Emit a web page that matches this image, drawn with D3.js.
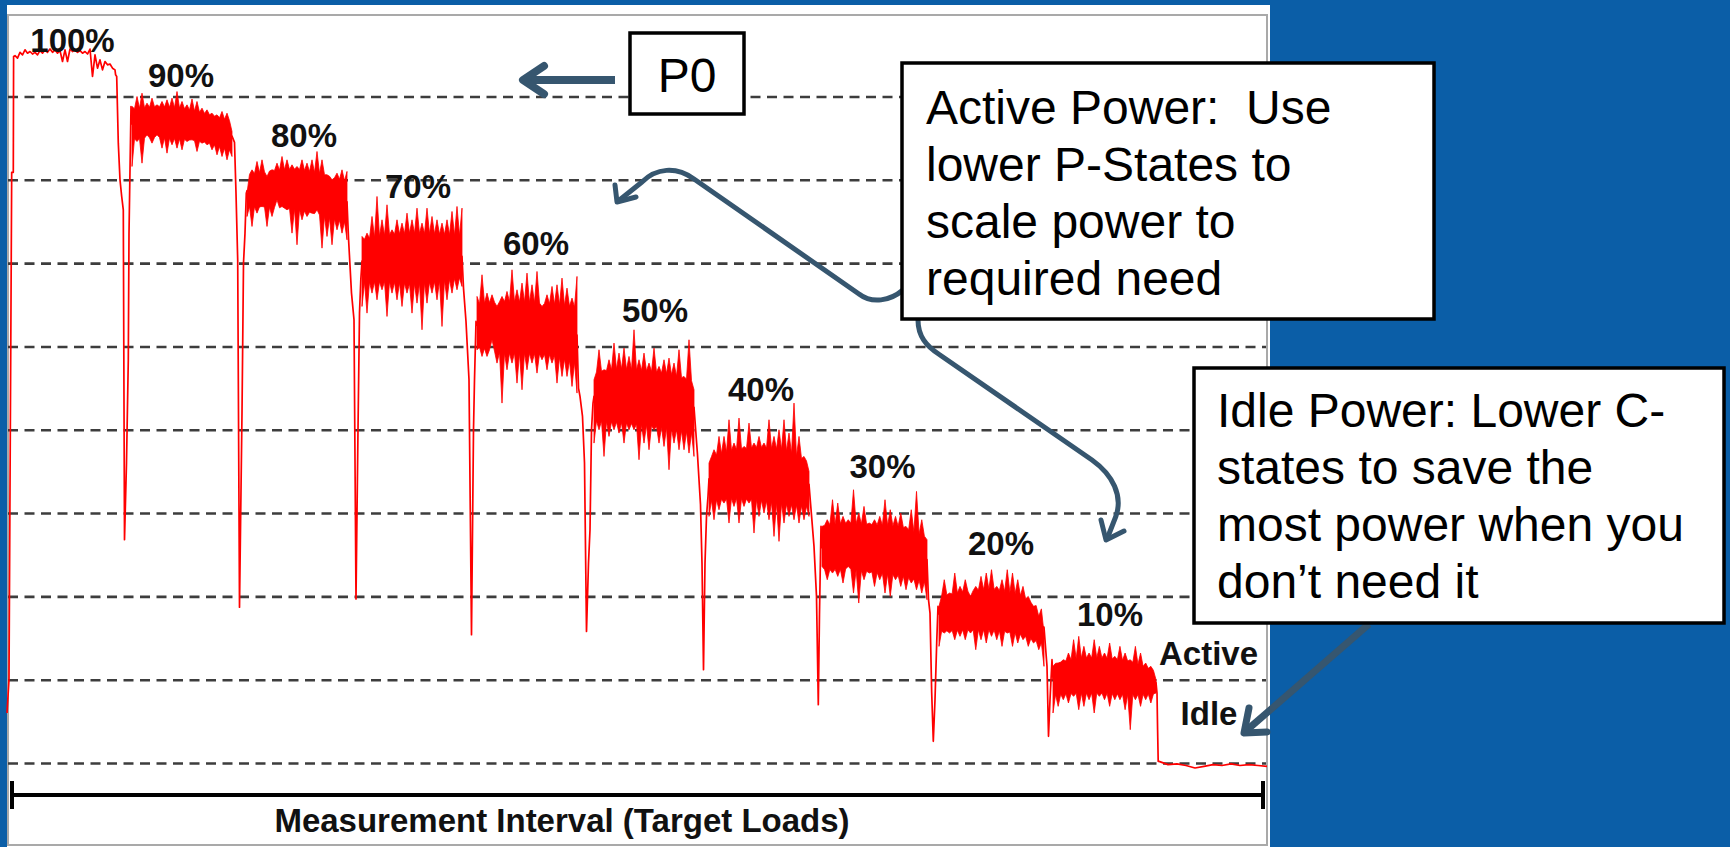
<!DOCTYPE html>
<meta charset="utf-8">
<style>

    html, body {
        margin: 0;
        padding: 0;
        background-color: #0b5ea7;
        overflow: hidden;
    }

    svg { display: block; }

    .grid line {
        stroke: #3d3d3d;
        stroke-width: 2.6;
        stroke-dasharray: 10 6.5;
    }

    path.trace {
        fill: none;
        stroke: #ff0000;
        stroke-width: 1.7;
        stroke-linejoin: round;
    }

    path.band {
        fill: #ff0000;
        stroke: #ff0000;
        stroke-width: 0.8;
        stroke-linejoin: round;
    }

    text.load {
        font: bold 33px "Liberation Sans", Arial, sans-serif;
        fill: #111;
        text-anchor: middle;
    }

    .callout rect {
        fill: #fff;
        stroke: #000;
        stroke-width: 3.5;
    }

    .callout text {
        font: 48px "Liberation Sans", Arial, sans-serif;
        fill: #000;
        white-space: pre;
    }

    path.pointer {
        fill: none;
        stroke: #36566f;
        stroke-linejoin: round;
    }

</style>
<body>
<script src="https://cdn.jsdelivr.net/npm/d3@7"></script>
<script>

    // power level is read in grid steps (0 = idle line, 8 = top dashed line)
    var gridLevels = [0, 1, 2, 3, 4, 5, 6, 7, 8];

    var loadLabels = ["100%", "90%", "80%", "70%", "60%", "50%", "40%", "30%", "20%", "10%"];
    var labelT = [65.5, 174, 297, 411, 529, 648, 754, 875.5, 994, 1103];
    var labelV = [8.53, 8.11, 7.39, 6.78, 6.10, 5.29, 4.35, 3.42, 2.50, 1.64];

    var stateLabels = ["Active", "Idle"];
    var stateT = [1201.5, 1202];
    var stateV = [1.18, 0.46];

    // measurement time of each load plateau
    var plateauStart = [8, 125, 240, 355, 470, 587, 702, 815, 932, 1046];
    var plateauEnd = [108, 225, 340, 455, 570, 687, 802, 920, 1037, 1149];

    // upper and lower spike tips along each plateau
    var spikeHigh = [
        [8.49, 8.53, 8.56, 8.54, 8.53, 8.55, 8.56, 8.57, 8.56, 8.55, 8.56, 8.57, 8.56, 8.55, 8.54, 8.57, 8.50, 8.44, 8.42, 8.39, 8.32],
        [7.88, 8.00, 8.04, 7.92, 7.98, 7.90, 7.94, 7.96, 7.98, 8.06, 7.94, 7.90, 7.97, 7.94, 7.86, 7.84, 7.80, 7.78, 7.82, 7.80, 7.58],
        [6.84, 7.12, 7.22, 7.24, 7.04, 7.12, 7.20, 7.28, 7.24, 7.18, 7.16, 7.24, 7.20, 7.24, 7.34, 7.24, 7.06, 7.00, 7.08, 7.12, 7.10],
        [6.32, 6.36, 6.56, 6.80, 6.52, 6.70, 6.40, 6.52, 6.48, 6.60, 6.52, 6.66, 6.48, 6.66, 6.56, 6.52, 6.48, 6.52, 6.62, 6.68, 6.66],
        [5.60, 5.86, 5.64, 5.62, 5.48, 5.60, 5.66, 5.92, 5.68, 5.76, 5.88, 5.74, 5.90, 5.48, 5.62, 5.72, 5.74, 5.82, 5.70, 5.58, 5.84],
        [4.60, 4.96, 4.72, 4.84, 5.04, 4.92, 4.98, 4.88, 5.20, 4.84, 4.92, 4.80, 4.98, 4.76, 4.84, 4.86, 4.80, 4.96, 4.64, 5.08, 4.48],
        [3.60, 3.76, 3.92, 3.92, 4.12, 3.84, 4.14, 3.80, 4.08, 3.84, 3.92, 3.84, 4.12, 3.92, 4.00, 4.12, 3.96, 4.32, 3.92, 3.68, 3.50],
        [2.84, 2.92, 3.16, 3.12, 2.96, 2.92, 3.28, 3.00, 3.08, 2.88, 2.92, 2.96, 3.16, 3.04, 2.96, 3.00, 2.84, 3.04, 3.26, 2.92, 2.68],
        [1.88, 2.20, 2.04, 2.28, 2.12, 2.20, 2.00, 2.12, 2.24, 2.28, 2.32, 2.12, 2.20, 2.32, 2.28, 2.20, 2.12, 2.00, 1.88, 1.76, 1.56],
        [1.16, 1.20, 1.24, 1.32, 1.48, 1.52, 1.40, 1.32, 1.48, 1.40, 1.32, 1.44, 1.28, 1.40, 1.32, 1.24, 1.40, 1.32, 1.20, 1.16, 1.00]
    ];
    var spikeLow = [
        [8.46, 8.50, 8.52, 8.51, 8.50, 8.52, 8.53, 8.53, 8.52, 8.42, 8.42, 8.54, 8.53, 8.52, 8.51, 8.24, 8.34, 8.32, 8.38, 8.34, 8.26],
        [7.16, 7.46, 7.20, 7.54, 7.44, 7.54, 7.38, 7.32, 7.42, 7.38, 7.36, 7.46, 7.48, 7.34, 7.44, 7.42, 7.36, 7.30, 7.28, 7.24, 7.28],
        [6.56, 6.44, 6.60, 6.68, 6.44, 6.56, 6.76, 6.68, 6.64, 6.36, 6.22, 6.52, 6.56, 6.60, 6.64, 6.18, 6.32, 6.22, 6.40, 6.36, 6.28],
        [5.48, 5.40, 5.64, 5.56, 5.68, 5.36, 5.64, 5.56, 5.48, 5.64, 5.40, 5.52, 5.20, 5.52, 5.64, 5.56, 5.24, 5.56, 5.64, 5.68, 5.72],
        [4.96, 4.88, 4.88, 5.08, 4.80, 4.32, 4.72, 4.80, 4.56, 4.48, 4.72, 4.80, 4.68, 4.84, 4.72, 4.80, 4.56, 4.64, 4.64, 4.52, 4.44],
        [3.84, 4.00, 3.68, 3.92, 4.00, 3.96, 3.84, 4.00, 4.00, 3.64, 3.84, 3.76, 4.00, 3.84, 3.80, 3.52, 3.84, 3.76, 3.76, 3.72, 3.68],
        [2.96, 2.92, 3.04, 3.12, 2.88, 3.08, 2.88, 3.08, 3.12, 2.76, 2.96, 3.00, 2.92, 2.72, 2.66, 2.88, 2.96, 2.92, 2.88, 2.92, 2.96],
        [2.36, 2.20, 2.28, 2.24, 2.16, 2.36, 2.04, 1.92, 2.20, 2.28, 2.12, 2.20, 2.04, 2.00, 2.20, 2.12, 2.08, 2.16, 2.08, 2.04, 1.96],
        [1.40, 1.56, 1.56, 1.48, 1.52, 1.48, 1.56, 1.36, 1.48, 1.44, 1.52, 1.48, 1.40, 1.56, 1.40, 1.44, 1.48, 1.40, 1.44, 1.36, 1.16],
        [0.60, 0.68, 0.76, 0.72, 0.80, 0.64, 0.68, 0.76, 0.60, 0.80, 0.76, 0.68, 0.76, 0.76, 0.64, 0.40, 0.76, 0.68, 0.76, 0.72, 0.84]
    ];

    // solid middle of each plateau (read at 5 points)
    var bandTop = [
        [],
        [7.85, 7.88, 7.86, 7.79, 7.70],
        [7.06, 7.11, 7.13, 7.07, 6.98],
        [6.28, 6.34, 6.36, 6.35, 6.33],
        [5.51, 5.54, 5.53, 5.51, 5.47],
        [4.69, 4.73, 4.71, 4.67, 4.58],
        [3.67, 3.76, 3.79, 3.76, 3.61],
        [2.85, 2.88, 2.86, 2.84, 2.71],
        [2.00, 2.06, 2.09, 2.03, 1.83],
        [1.19, 1.26, 1.26, 1.22, 1.10]
    ];
    var bandBottom = [
        [],
        [7.49, 7.51, 7.49, 7.45, 7.35],
        [6.68, 6.67, 6.65, 6.57, 6.49],
        [5.77, 5.78, 5.75, 5.78, 5.83],
        [5.00, 4.92, 4.92, 4.90, 4.80],
        [4.11, 4.09, 4.06, 4.02, 3.96],
        [3.15, 3.18, 3.16, 3.11, 3.08],
        [2.32, 2.33, 2.29, 2.25, 2.17],
        [1.58, 1.60, 1.60, 1.56, 1.43],
        [0.82, 0.84, 0.84, 0.82, 0.83]
    ];

    // [time, level] at the start and between load levels
    var rampIn = [[0, 0.60], [2, 1.00], [4.7, 7.09], [6.3, 7.09], [6.6, 8.48]];
    var dips = [
        [[109.7, 8.24], [111.3, 7.44], [113, 7.00], [114.7, 6.80], [116.3, 6.64], [117.5, 2.68], [119.5, 3.60], [121.3, 4.84], [122, 6.36], [123, 7.12], [124, 7.88]],
        [[227.5, 7.45], [229, 6.84], [230.7, 6.04], [232.5, 1.87], [235, 4.20], [236.5, 6.00], [238, 6.36], [239.3, 6.84]],
        [[341.5, 6.30], [344.5, 5.64], [347, 5.32], [349, 1.97], [351, 4.00], [352.5, 5.40], [353.8, 5.80]],
        [[456.5, 5.70], [459, 5.30], [462, 4.60], [464.5, 1.54], [466.5, 4.00], [467.5, 4.60], [469, 5.30]],
        [[571.5, 4.50], [573, 4.40], [575.5, 4.16], [577.5, 3.60], [579.5, 1.58], [581.5, 2.40], [583, 2.80], [584.5, 4.00], [586, 4.32]],
        [[690.5, 3.70], [692, 3.40], [693.5, 3.10], [695, 2.40], [696.5, 1.12], [698, 2.40], [699.5, 2.96], [701, 3.20]],
        [[805, 2.90], [807, 2.60], [809.5, 2.00], [811.3, 0.70], [812.5, 1.80], [814, 2.84]],
        [[921.5, 1.96], [923, 1.80], [924.7, 0.84], [926.3, 0.26], [928, 0.76], [929.7, 1.44], [931, 1.88]],
        [[1040, 1.16], [1041.5, 0.32], [1043, 0.76], [1045, 1.24]],
        [[1150, 0.84], [1150.6, 0.40], [1151.2, 0.02]]
    ];

    var idleStart = 1152, idleEnd = 1260;
    var idleValues = [0.02, -0.02, -0.01, -0.03, -0.06, -0.04, -0.02, -0.03, -0.01, -0.03, -0.02, -0.03, -0.04];

    var intervalStart = 5, intervalEnd = 1256, intervalLabelT = 555;

    var activeLines = ["Active Power:  Use", "lower P-States to", "scale power to", "required need"];
    var idleLines = ["Idle Power: Lower C-", "states to save the", "most power when you", "don\u2019t need it"];

    var width = 1730, height = 847;

    var x = d3.scaleLinear().domain([0, 1260]).range([7, 1267]);
    var y = d3.scaleLinear().domain([0, 8]).range([763, 96.5]);

    var svg = d3.select("body").append("svg")
            .attr("width", width)
            .attr("height", height);

    // white chart panel
    svg.append("rect")
            .attr("x", 7).attr("y", 5)
            .attr("width", 1263).attr("height", 842)
            .attr("fill", "#fff");
    svg.append("rect")
            .attr("x", 8).attr("y", 15)
            .attr("width", 1259).attr("height", 830)
            .attr("fill", "none")
            .attr("stroke", "#a9a9a9")
            .attr("stroke-width", 2);

    // dashed level lines
    svg.append("g")
            .attr("class", "grid")
            .attr("transform", "translate(8,0)")
            .call(d3.axisRight(y).tickValues(gridLevels).tickSize(1258).tickFormat(""))
            .call(function(g) { g.select(".domain").remove(); });

    // power trace: thin line through ramps and dips, filled noisy band on plateaus
    var points = rampIn.slice();
    var bands = [];
    plateauStart.forEach(function(t0, i) {
        var hi = spikeHigh[i], lo = spikeLow[i], n = hi.length;
        var step = (plateauEnd[i] - t0) / (n - 1);
        if (!bandTop[i].length) {
            for (var j = 0; j < n; j++) {
                points.push([t0 + j * step, hi[j]]);
                points.push([t0 + j * step + (j < n - 1 ? step / 2 : 0.6), lo[j]]);
            }
        } else {
            var coreT = bandTop[i].map(function(v, k) { return t0 + k * (plateauEnd[i] - t0) / (bandTop[i].length - 1); });
            var top = d3.scaleLinear().domain(coreT).range(bandTop[i]);
            var bottom = d3.scaleLinear().domain(coreT).range(bandBottom[i]);
            var pts = [];
            for (var k = 0; k < n; k++) {
                var t = t0 + k * step;
                pts.push([t, lo[k], hi[k]]);
                if (k < n - 1) pts.push([t + step / 2, bottom(t + step / 2), top(t + step / 2)]);
            }
            bands.push(pts);
            points.push([t0, (top(t0) + bottom(t0)) / 2]);
            points.push([plateauEnd[i], (top(plateauEnd[i]) + bottom(plateauEnd[i])) / 2]);
        }
        dips[i].forEach(function(p) { points.push(p); });
    });
    idleValues.forEach(function(v, k) {
        points.push([idleStart + k * (idleEnd - idleStart) / (idleValues.length - 1), v]);
    });

    svg.append("path")
            .datum(points)
            .attr("class", "trace")
            .attr("d", d3.line()
                    .x(function(d) { return x(d[0]); })
                    .y(function(d) { return y(d[1]); }));

    svg.append("g").selectAll("path")
            .data(bands)
            .join("path")
            .attr("class", "band")
            .attr("d", d3.area()
                    .x(function(d) { return x(d[0]); })
                    .y0(function(d) { return y(d[1]); })
                    .y1(function(d) { return y(d[2]); }));

    // load level labels
    svg.append("g").selectAll("text")
            .data(loadLabels.map(function(s, i) { return [s, labelT[i], labelV[i]]; })
                    .concat(stateLabels.map(function(s, i) { return [s, stateT[i], stateV[i]]; })))
            .join("text")
            .attr("class", "load")
            .attr("x", function(d) { return x(d[1]); })
            .attr("y", function(d) { return y(d[2]); })
            .text(function(d) { return d[0]; });

    // measurement interval bar
    var bar = svg.append("g").attr("stroke", "#000").attr("stroke-width", 4);
    bar.append("line")
            .attr("x1", x(intervalStart)).attr("x2", x(intervalEnd))
            .attr("y1", 795).attr("y2", 795);
    bar.selectAll("line.end")
            .data([intervalStart, intervalEnd])
            .join("line")
            .attr("class", "end")
            .attr("x1", x).attr("x2", x)
            .attr("y1", 781).attr("y2", 809);

    svg.append("text")
            .attr("class", "load")
            .attr("x", x(intervalLabelT))
            .attr("y", 832)
            .text("Measurement Interval (Target Loads)");

    // pointers
    svg.append("path")
            .attr("class", "pointer")
            .attr("stroke-width", 8)
            .attr("d", "M615,80 L526,80");
    svg.append("path")
            .attr("class", "pointer")
            .attr("stroke-width", 8)
            .attr("stroke-linecap", "round")
            .attr("d", "M544,66 L523,80 L544,94");

    svg.append("path")
            .attr("class", "pointer")
            .attr("stroke-width", 5)
            .attr("d", "M903,290 C890,301 872,304 859,294 L694,179 C676,166 656,168 642,182 L617,202");
    svg.append("path")
            .attr("class", "pointer")
            .attr("stroke-width", 5)
            .attr("stroke-linecap", "round")
            .attr("d", "M615,185 L617,202 L636,197");

    svg.append("path")
            .attr("class", "pointer")
            .attr("stroke-width", 5)
            .attr("d", "M918,320 C918,336 926,346 940,355 L1092,460 C1113,475 1123,496 1116,516 L1107,539");
    svg.append("path")
            .attr("class", "pointer")
            .attr("stroke-width", 5)
            .attr("stroke-linecap", "round")
            .attr("d", "M1101,520 L1106,540 L1124,531");

    svg.append("path")
            .attr("class", "pointer")
            .attr("stroke", "#3d5a70")
            .attr("stroke-width", 7)
            .attr("d", "M1369,624 L1247,730");
    svg.append("path")
            .attr("class", "pointer")
            .attr("stroke", "#3d5a70")
            .attr("stroke-width", 7)
            .attr("stroke-linecap", "round")
            .attr("d", "M1249,708 L1244,733 L1267,732");

    // callout boxes
    function callout(x0, y0, w, h, lines, tx, ty, dy, anchor) {
        var g = svg.append("g").attr("class", "callout");
        g.append("rect").attr("x", x0).attr("y", y0).attr("width", w).attr("height", h);
        g.selectAll("text").data(lines).join("text")
                .attr("x", tx)
                .attr("y", function(d, i) { return ty + i * dy; })
                .attr("text-anchor", anchor || "start")
                .text(function(d) { return d; });
    }

    callout(630, 33, 114, 81, ["P0"], 687, 92, 0, "middle");
    callout(902, 63, 532, 256, activeLines, 926, 124, 57);
    callout(1194, 368, 530, 255, idleLines, 1217, 427, 57);

</script>
